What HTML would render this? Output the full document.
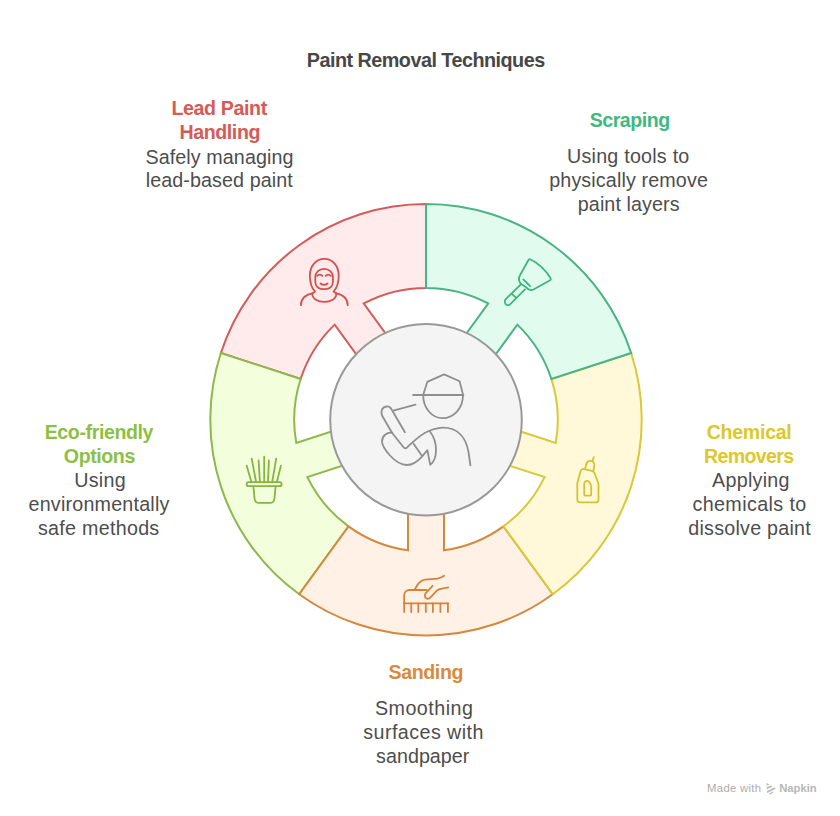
<!DOCTYPE html>
<html><head><meta charset="utf-8"><style>
html,body{margin:0;padding:0;background:#fff;}
body{width:840px;height:816px;position:relative;overflow:hidden;}
svg{position:absolute;left:0;top:0;}
text{font-family:"Liberation Sans",sans-serif;}
</style></head><body>
<svg width="840" height="816" viewBox="0 0 840 816">
<path d="M220.86,353.05 A215.7,215.7 0 0 1 426.00,204.00 L426.00,287.90 A131.8,131.8 0 0 0 363.82,303.49 L399.42,352.49 L370.29,373.65 L334.69,324.65 A131.8,131.8 0 0 0 300.65,378.97 Z" fill="#FFEBEB" stroke="#D35C59" stroke-width="2"/>
<path d="M299.21,594.20 A215.7,215.7 0 0 1 220.86,353.05 L300.65,378.97 A131.8,131.8 0 0 0 296.26,442.93 L353.86,424.21 L364.99,458.45 L307.39,477.17 A131.8,131.8 0 0 0 348.53,526.33 Z" fill="#F3FEDD" stroke="#8DB84A" stroke-width="2"/>
<path d="M552.79,594.20 A215.7,215.7 0 0 1 299.21,594.20 L348.53,526.33 A131.8,131.8 0 0 0 408.00,550.27 L408.00,489.70 L444.00,489.70 L444.00,550.27 A131.8,131.8 0 0 0 503.47,526.33 Z" fill="#FFF1E5" stroke="#D4893E" stroke-width="2"/>
<path d="M631.14,353.05 A215.7,215.7 0 0 1 552.79,594.20 L503.47,526.33 A131.8,131.8 0 0 0 544.61,477.17 L487.01,458.45 L498.14,424.21 L555.74,442.93 A131.8,131.8 0 0 0 551.35,378.97 Z" fill="#FFF9D9" stroke="#D9C83A" stroke-width="2"/>
<path d="M426.00,204.00 A215.7,215.7 0 0 1 631.14,353.05 L551.35,378.97 A131.8,131.8 0 0 0 517.31,324.65 L481.71,373.65 L452.58,352.49 L488.18,303.49 A131.8,131.8 0 0 0 426.00,287.90 Z" fill="#E1FCEF" stroke="#4AB384" stroke-width="2"/>
<circle cx="426.0" cy="419.7" r="95.8" fill="#F4F4F4" stroke="#999999" stroke-width="2"/>

<g fill="none" stroke="#D2504D" stroke-width="1.8" stroke-linecap="round" stroke-linejoin="round">
 <path d="M312.3,293.4 L315.1,291.6 C311.5,288 309.9,282 309.9,275.5 C309.9,266 316,258.8 324.3,258.8 C332.6,258.8 338.7,266 338.7,275.5 C338.7,282 337.1,288 333.5,291.6 L336.3,293.4"/>
 <path d="M300.9,305.2 C300.9,298.5 305,295 312.3,293.4"/>
 <path d="M347.7,305.2 C347.7,298.5 343.6,295 336.3,293.4"/>
 <path d="M312.3,293.4 C312,299 318,301.8 324.3,301.8 C330.6,301.8 336.6,299 336.3,293.4"/>
 <path d="M315.3,282 L315.3,277.3 C315.3,272.2 319.2,268.9 324.1,268.9 C329,268.9 332.9,272.2 332.9,277.3 L332.9,282 C332.9,286.5 329.5,289.1 325.5,289.1 L322.7,289.1 C318.7,289.1 315.3,286.5 315.3,282 Z"/>
 <path d="M317.3,275.9 C318.6,274.2 321.1,274.2 322.4,275.9"/>
 <path d="M325.6,275.9 C326.9,274.2 329.4,274.2 330.7,275.9"/>
 <path d="M320.5,283.4 C322,285.4 326,285.4 327.5,283.4"/>
</g>
<g fill="none" stroke="#3DB67E" stroke-width="1.8" stroke-linecap="round" stroke-linejoin="round">
 <path d="M521.6,284.2 C519,282 518,279 519.9,275.5 L528.3,260.3 C528.8,259.3 529.8,259 530.7,259.5 C537,262.5 546,270 550.6,278.3 C551,279 550.8,279.8 550.1,280.2 L533.5,289.5 C531,290.6 528.2,289.8 526.4,287.6 Z"/>
 <path d="M520.6,284.6 L506,298.9 C504,301 504.6,304 507,305 C508.2,305.5 509.5,305 510.3,304.1 L525,289.4"/>
 <path d="M512,293.8 L516.1,297.9"/>
 <path d="M523.3,279.4 L530.2,286.2"/>
</g>
<g fill="none" stroke="#D6C22E" stroke-width="1.8" stroke-linecap="round" stroke-linejoin="round">
 <path d="M583.2,468.9 L592.8,471.2 L594.2,472.2 L598.5,483.8 L598.5,499.6 C598.5,501.2 597.8,502.3 596.2,502.3 L579.9,502.3 C578.3,502.3 577.3,501.2 577.3,499.6 L577.3,483.1 L580.6,471.2 C581,469.8 582,469 583.2,468.9 Z"/>
 <path d="M585.3,468.3 L586.2,464.2 C586.8,462 588.3,460.9 590.2,460.9 C592.7,460.9 594.6,462.8 594.4,465 L593.5,470.3"/>
 <path d="M592.4,460.9 L593.8,457.2"/>
 <path d="M584.2,494 L584.2,484.5 C584.2,482 585.5,480.8 587.3,480.8 C588.6,480.8 589.5,482 590.5,484.2 L591.2,486.4 L591.2,494 C591.2,495.2 590.6,495.7 589.6,495.7 L585.8,495.7 C584.8,495.7 584.2,495.2 584.2,494 Z"/>
</g>
<g fill="none" stroke="#D4833A" stroke-width="1.8" stroke-linecap="round" stroke-linejoin="round">
 <path d="M404.2,603.3 L448.3,603.3"/>
 <path d="M404.2,603.3 L404.2,612.1 M411.25,603.3 L411.25,612.1 M418.3,603.3 L418.3,612.1 M425.8,603.3 L425.8,612.1 M432.9,603.3 L432.9,612.1 M440.4,603.3 L440.4,612.1 M447.9,603.3 L447.9,612.1"/>
 <path d="M404.2,603.3 L404.2,595.5 C404.2,592.3 406.3,590 409.5,590 L426.7,590"/>
 <path d="M414.6,589.8 C417.5,584.5 420,580.2 425,579.6 L437.5,578.6 C440.5,578.3 442,576.8 444.2,575.8"/>
 <path d="M432.5,585.8 L425.6,593.4 C423.8,595.8 425.2,599.2 428.3,598.7 C429,598.6 429.6,598.2 430.2,597.6 L436.8,590.6 C438.2,589.2 440,588.9 442,588.6 L448.3,587.3"/>
</g>
<g fill="none" stroke="#87B340" stroke-width="1.8" stroke-linecap="round" stroke-linejoin="round">
 <rect x="246.6" y="482.2" width="35" height="4" rx="2"/>
 <path d="M253.4,486.4 L254.6,499 C254.9,501.6 256.5,502.9 259,502.9 L270,502.9 C272.5,502.9 274.1,501.6 274.4,499 L275.6,486.4"/>
 <path d="M251.3,481.5 L246.6,465.6 M256,481.5 L251.7,458.7 M259.9,481.5 L258.6,460.5 M264.2,481.5 L264.2,456.6 M268,481.5 L268.9,460.5 M272.3,481.5 L276.2,458.7 M277,481.5 L280.9,465.6"/>
</g>
<g fill="none" stroke="#8F8F8F" stroke-width="1.8" stroke-linecap="round" stroke-linejoin="round">
 <path d="M423.2,394.7 L427.3,381.9 L444.1,374.4 L459.6,381.2 L463,394.7"/>
 <path d="M413.1,395 L463.4,395"/>
 <path d="M423.2,395 C423,408 432,418.2 442.8,418.2 C453,418.2 463,409 463,395"/>
 <path d="M393.4,410.6 L415.5,404.7"/>
 <path d="M392,432.7 L382,415.5 C380,411 382.5,407 386.5,406.5 C388.5,406.3 390.5,407.5 391.5,409.3 L404.9,432.2"/>
 <path d="M392,432.7 C387,432 382,436 382,441.5 C382,446 386,451 390,455.5 C395,461 400,465 407,465 C413,465 418,461 422,456.6 L427.4,450.2 L430.2,464.9 C434,462 436,457 436,450 C436,442 433.5,436 429.7,431.3"/>
 <path d="M392,432.7 L403.5,447.2 C404.4,448.4 405.8,448.6 407,447.6 C412,443 420,434 430,430.5 C436,428.5 440,427.7 443,427.7 C458,427.7 466,438 468.5,452 L470.4,465.4"/>
 <path d="M413.6,443.7 L421.9,455.7"/>
</g>
<g fill="#BDBDBD" stroke="none">
 <path d="M766.3,783 L769.6,784.4 L766.5,785.8 Z"/>
 <path d="M766.6,787.2 L770.6,785.4 L772.9,786.4 L766.6,789.4 Z"/>
 <path d="M766.6,791.2 L774.2,787.5 L775.8,788.2 L775.2,789 L767.4,792.9 Z"/>
 <path d="M769.2,793.6 L772.6,791.6 L773.6,792.3 L770.2,794.8 Z"/>
</g>

<text x="306.80" y="67.20" font-weight="bold" font-size="19.8" fill="#474747" textLength="238.37" lengthAdjust="spacing">Paint Removal Techniques</text>
<text x="171.40" y="115.30" font-weight="bold" font-size="19.6" fill="#D65A56" textLength="95.79" lengthAdjust="spacing">Lead Paint</text>
<text x="179.40" y="139.30" font-weight="bold" font-size="19.6" fill="#D65A56" textLength="81.01" lengthAdjust="spacing">Handling</text>
<text x="145.40" y="163.50" font-weight="normal" font-size="19.7" fill="#4D4D4D" textLength="148.07" lengthAdjust="spacing">Safely managing</text>
<text x="145.70" y="187.40" font-weight="normal" font-size="19.7" fill="#4D4D4D" textLength="147.09" lengthAdjust="spacing">lead-based paint</text>
<text x="589.70" y="127.20" font-weight="bold" font-size="19.6" fill="#3FB981" textLength="80.44" lengthAdjust="spacing">Scraping</text>
<text x="567.10" y="163.30" font-weight="normal" font-size="19.7" fill="#4D4D4D" textLength="122.18" lengthAdjust="spacing">Using tools to</text>
<text x="549.20" y="187.00" font-weight="normal" font-size="19.7" fill="#4D4D4D" textLength="158.67" lengthAdjust="spacing">physically remove</text>
<text x="577.80" y="210.60" font-weight="normal" font-size="19.7" fill="#4D4D4D" textLength="101.69" lengthAdjust="spacing">paint layers</text>
<text x="706.70" y="439.40" font-weight="bold" font-size="19.6" fill="#DDC82A" textLength="85.12" lengthAdjust="spacing">Chemical</text>
<text x="704.00" y="463.40" font-weight="bold" font-size="19.6" fill="#DDC82A" textLength="90.17" lengthAdjust="spacing">Removers</text>
<text x="712.10" y="487.30" font-weight="normal" font-size="19.7" fill="#4D4D4D" textLength="77.43" lengthAdjust="spacing">Applying</text>
<text x="692.40" y="511.00" font-weight="normal" font-size="19.7" fill="#4D4D4D" textLength="113.92" lengthAdjust="spacing">chemicals to</text>
<text x="688.30" y="534.80" font-weight="normal" font-size="19.7" fill="#4D4D4D" textLength="122.40" lengthAdjust="spacing">dissolve paint</text>
<text x="44.70" y="439.30" font-weight="bold" font-size="19.6" fill="#8DBF45" textLength="108.83" lengthAdjust="spacing">Eco-friendly</text>
<text x="63.80" y="463.30" font-weight="bold" font-size="19.6" fill="#8DBF45" textLength="71.52" lengthAdjust="spacing">Options</text>
<text x="74.20" y="487.10" font-weight="normal" font-size="19.7" fill="#4D4D4D" textLength="51.54" lengthAdjust="spacing">Using</text>
<text x="28.50" y="511.00" font-weight="normal" font-size="19.7" fill="#4D4D4D" textLength="140.89" lengthAdjust="spacing">environmentally</text>
<text x="38.00" y="534.80" font-weight="normal" font-size="19.7" fill="#4D4D4D" textLength="121.20" lengthAdjust="spacing">safe methods</text>
<text x="388.60" y="679.00" font-weight="bold" font-size="19.6" fill="#DA8A3C" textLength="74.80" lengthAdjust="spacing">Sanding</text>
<text x="374.90" y="715.10" font-weight="normal" font-size="19.7" fill="#4D4D4D" textLength="98.03" lengthAdjust="spacing">Smoothing</text>
<text x="363.30" y="739.10" font-weight="normal" font-size="19.7" fill="#4D4D4D" textLength="120.09" lengthAdjust="spacing">surfaces with</text>
<text x="376.10" y="763.10" font-weight="normal" font-size="19.7" fill="#4D4D4D" textLength="93.25" lengthAdjust="spacing">sandpaper</text>
<text x="707.10" y="792.00" font-weight="normal" font-size="11.3" fill="#ADADAD" textLength="53.90" lengthAdjust="spacing">Made with</text>
<text x="779.20" y="792.00" font-weight="bold" font-size="11.3" fill="#B8B8B8" textLength="37.57" lengthAdjust="spacing">Napkin</text>
</svg>
</body></html>
